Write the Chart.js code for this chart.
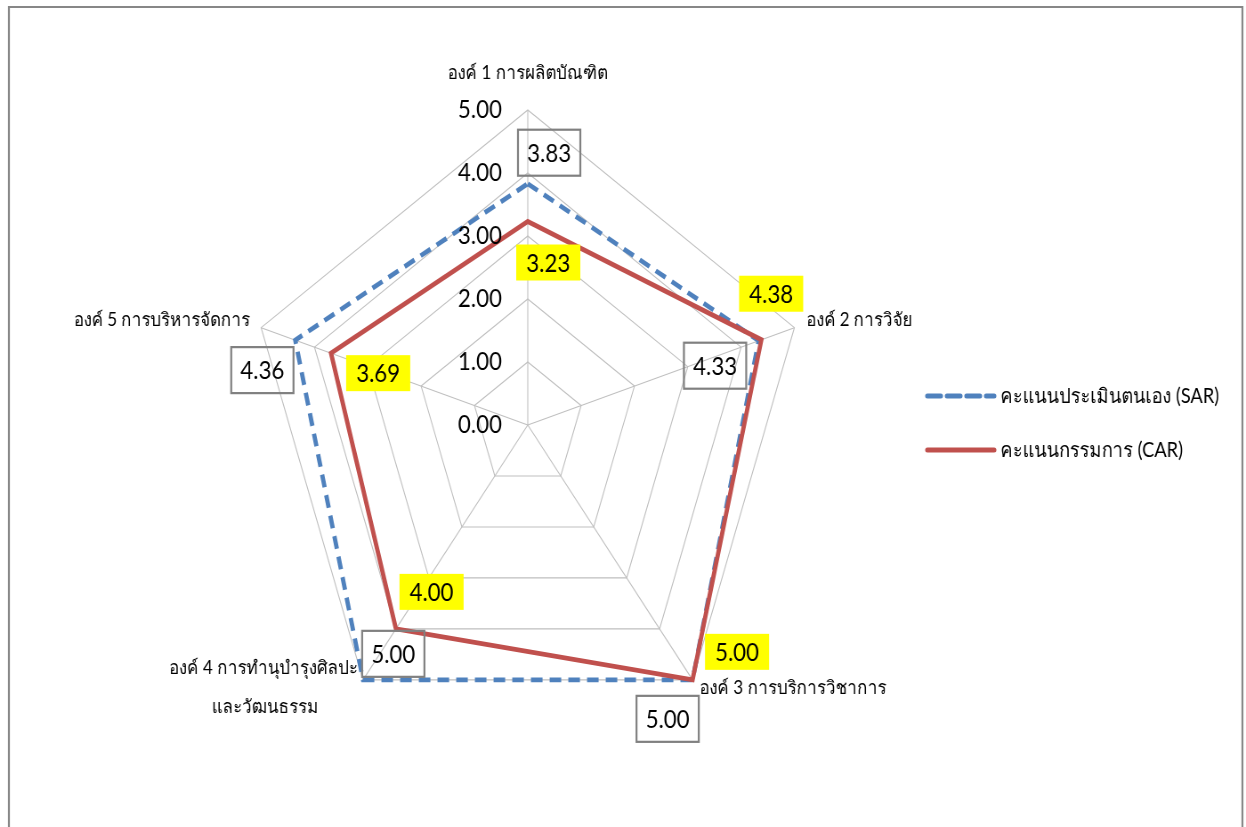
<!DOCTYPE html>
<html>
<head>
<meta charset="utf-8">
<script src="https://cdn.jsdelivr.net/npm/chart.js@4/dist/chart.umd.min.js"></script>
<style>
  html, body { margin: 0; padding: 0; background: #fff; overflow: hidden; }
  #wrap { width: 1246px; height: 827px; overflow: hidden; }
  /* the original picture is squeezed horizontally */
  #radar { transform: scaleX(0.89); transform-origin: 0 0; }
</style>
</head>
<body>
<div id="wrap"><canvas id="radar" width="1400" height="827"></canvas></div>
<script>
// Radar: SAR vs CAR scores per component

const categories = [
  'องค์ 1 การผลิตบัณฑิต',
  'องค์ 2 การวิจัย',
  'องค์ 3 การบริการวิชาการ',
  ['องค์ 4 การทำนุบำรุงศิลปะ', 'และวัฒนธรรม'],
  'องค์ 5 การบริหารจัดการ'
];
const sarScores = [3.83, 4.33, 5.00, 5.00, 4.36];
const carScores = [3.23, 4.38, 5.00, 4.00, 3.69];
const tickValues = [0, 1, 2, 3, 4, 5];
const seriesNames = ['คะแนนประเมินตนเอง (SAR)', 'คะแนนกรรมการ (CAR)'];

const FONT = 'Lato, "Noto Sans", "DejaVu Sans", sans-serif';
const BLUE = '#4F81BD';
const RED = '#C0504D';

// label placement relative to the point (canvas pixels, before squeeze)
const sarLabelOffsets = [[24, -31], [-49, 25], [-28, 39], [34, -26], [-37, 30]];
const carLabelOffsets = [[23, 41], [11, -46], [50, -28], [40, -37], [53, 20]];
// axis title placement relative to the outer vertex, one entry per line
const axisLabelStyle = [
  [{ dx: 0, dy: -37, align: 'center' }],
  [{ dx: 13, dy: -8, align: 'left' }],
  [{ dx: 8, dy: 8, align: 'left' }],
  [{ dx: -6, dy: -12, align: 'right' }, { dx: -110, dy: 27, align: 'center' }],
  [{ dx: -12, dy: -8, align: 'right' }]
];

const overlayPlugin = {
  id: 'overlay',
  beforeDraw(chart) {
    const ctx = chart.ctx;
    ctx.save();
    ctx.strokeStyle = '#878787';
    ctx.lineWidth = 2.2;
    ctx.beginPath();
    ctx.moveTo(10, 840);
    ctx.lineTo(10, 7);
    ctx.lineTo(1396, 7);
    ctx.lineTo(1396, 840);
    ctx.stroke();
    ctx.restore();
  },
  afterDatasetsDraw(chart) {
    const ctx = chart.ctx;
    const scale = chart.scales.r;
    ctx.save();

    // tick labels along the first axis
    ctx.font = '25px ' + FONT;
    ctx.fillStyle = '#000';
    ctx.textAlign = 'right';
    ctx.textBaseline = 'middle';
    tickValues.forEach(v => {
      const d = scale.getDistanceFromCenterForValue(v);
      ctx.fillText(v.toFixed(2), scale.xCenter - 29, scale.yCenter - d);
    });

    // axis titles
    ctx.font = '19px ' + FONT;
    categories.forEach((lbl, i) => {
      const p = scale.getPointPosition(i, scale.drawingArea);
      const lines = Array.isArray(lbl) ? lbl : [lbl];
      lines.forEach((line, k) => {
        const st = axisLabelStyle[i][k];
        ctx.textAlign = st.align;
        ctx.fillText(line, p.x + st.dx, p.y + st.dy);
      });
    });

    // data labels
    ctx.font = '25px ' + FONT;
    ctx.textAlign = 'center';
    const sarMeta = chart.getDatasetMeta(0);
    const carMeta = chart.getDatasetMeta(1);
    carMeta.data.forEach((pt, i) => {
      const x = pt.x + carLabelOffsets[i][0];
      const y = pt.y + carLabelOffsets[i][1];
      ctx.fillStyle = '#FFFF00';
      ctx.fillRect(x - 36, y - 18, 72, 36);
      ctx.fillStyle = '#000';
      ctx.fillText(carScores[i].toFixed(2), x, y + 1);
    });
    sarMeta.data.forEach((pt, i) => {
      const x = pt.x + sarLabelOffsets[i][0];
      const y = pt.y + sarLabelOffsets[i][1];
      ctx.strokeStyle = '#808080';
      ctx.lineWidth = 2.2;
      ctx.strokeRect(x - 35, y - 23, 70, 46);
      ctx.fillStyle = '#000';
      ctx.fillText(sarScores[i].toFixed(2), x, y + 1);
    });

    // legend
    const legend = [
      { y: 396, color: BLUE, dash: [15, 7] },
      { y: 450, color: RED, dash: [] }
    ];
    ctx.font = '20.5px ' + FONT;
    ctx.textAlign = 'left';
    legend.forEach((it, i) => {
      ctx.strokeStyle = it.color;
      ctx.lineWidth = 5;
      ctx.lineCap = 'round';
      ctx.setLineDash(it.dash);
      ctx.beginPath();
      ctx.moveTo(1042, it.y);
      ctx.lineTo(1117, it.y);
      ctx.stroke();
      ctx.setLineDash([]);
      ctx.fillStyle = '#000';
      ctx.fillText(seriesNames[i], 1124, it.y);
    });
    ctx.restore();
  }
};

new Chart(document.getElementById('radar'), {
  type: 'radar',
  data: {
    labels: categories,
    datasets: [
      {
        label: seriesNames[0],
        data: sarScores,
        borderColor: BLUE,
        borderWidth: 4.8,
        borderDash: [13, 8],
        backgroundColor: 'transparent',
        fill: false,
        pointRadius: 0,
        tension: 0,
        order: 2
      },
      {
        label: seriesNames[1],
        data: carScores,
        borderColor: RED,
        borderWidth: 4.8,
        backgroundColor: 'transparent',
        fill: false,
        pointRadius: 0,
        tension: 0,
        order: 1
      }
    ]
  },
  options: {
    responsive: false,
    animation: false,
    layout: { padding: { left: 278, right: 492, top: 110, bottom: 87 } },
    plugins: { legend: { display: false }, tooltip: { enabled: false } },
    scales: {
      r: {
        min: 0,
        max: 5,
        ticks: { stepSize: 1, display: false },
        pointLabels: { display: false },
        grid: { color: '#BFBFBF', lineWidth: 1.1 },
        angleLines: { color: '#BFBFBF', lineWidth: 1.1 }
      }
    }
  },
  plugins: [overlayPlugin]
});
</script>
</body>
</html>
